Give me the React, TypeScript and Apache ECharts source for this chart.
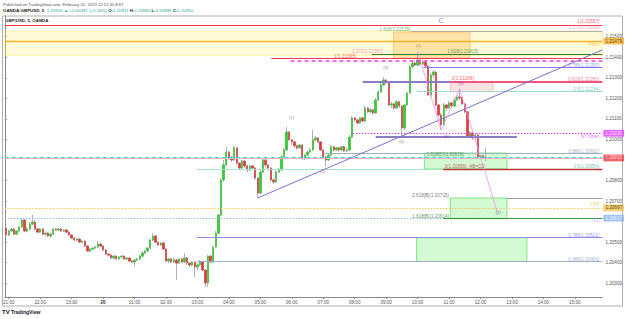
import { useEffect, useRef } from "react";
import * as echarts from "echarts";

// ---- price data (GBP/USD 5-minute bars, 20:55 -> 12:10) ----
const firstOpen = 1.20569;
const closes = [
  1.20535, 1.20554, 1.20564, 1.20539, 1.20554, 1.20574, 1.20608, 1.20554, 1.20564, 1.20588,
  1.20598, 1.20564, 1.20549, 1.20564, 1.20539, 1.20544, 1.2053, 1.20539, 1.20564, 1.20559,
  1.20564, 1.20554, 1.20559, 1.20549, 1.20535, 1.2052, 1.2051, 1.20515, 1.205, 1.20505,
  1.20481, 1.20457, 1.20466, 1.20471, 1.20476, 1.20491, 1.20481, 1.20462, 1.20442, 1.20437,
  1.20423, 1.20432, 1.20418, 1.20428, 1.20432, 1.20418, 1.20423, 1.20408, 1.20403, 1.20413,
  1.20418, 1.20432, 1.20447, 1.20457, 1.20471, 1.2051, 1.2053, 1.205, 1.20486, 1.20496,
  1.20466, 1.20408, 1.20418, 1.20403, 1.20413, 1.20398, 1.20418, 1.20403, 1.20423, 1.20398,
  1.20389, 1.20403, 1.20379, 1.20389, 1.20403, 1.20364, 1.20301, 1.20432, 1.20403, 1.20476,
  1.20544, 1.20632, 1.20803, 1.20876, 1.20939, 1.2091, 1.209, 1.20959, 1.20885, 1.20861,
  1.20895, 1.20871, 1.20851, 1.20871, 1.20861, 1.20812, 1.20739, 1.20841, 1.209, 1.20876,
  1.20861, 1.20803, 1.20793, 1.20841, 1.20851, 1.20915, 1.20949, 1.21036, 1.20998, 1.20988,
  1.20969, 1.20959, 1.20973, 1.2091, 1.20924, 1.20939, 1.20949, 1.20998, 1.21007, 1.20988,
  1.20949, 1.20915, 1.209, 1.20924, 1.20964, 1.20949, 1.20959, 1.20949, 1.20964, 1.20944,
  1.20949, 1.21012, 1.21105, 1.21095, 1.2108, 1.21105, 1.2109, 1.21153, 1.21134, 1.21144,
  1.21129, 1.21192, 1.21231, 1.21265, 1.21289, 1.2128, 1.21168, 1.21173, 1.21153, 1.21183,
  1.21163, 1.21056, 1.21168, 1.21226, 1.21353, 1.21372, 1.21362, 1.21387, 1.21367, 1.21377,
  1.21358, 1.21216, 1.21314, 1.21328, 1.21168, 1.21119, 1.21071, 1.21168, 1.21153, 1.21178,
  1.21163, 1.21192, 1.21207, 1.21202, 1.21173, 1.21134, 1.21017, 1.21032, 1.21007, 1.21022,
  1.20915, 1.2092, 1.20911, 1.2091,
];
const highs = [
  1.20578, 1.20559, 1.20569, 1.20569, 1.20559, 1.20578, 1.20613, 1.20613, 1.20574, 1.20598,
  1.20632, 1.20608, 1.20569, 1.20569, 1.20569, 1.20549, 1.20549, 1.20544, 1.20569, 1.20569,
  1.20569, 1.20569, 1.20564, 1.20564, 1.20554, 1.20539, 1.20525, 1.2052, 1.2052, 1.2051,
  1.2051, 1.20486, 1.20471, 1.20476, 1.20481, 1.20505, 1.20496, 1.20486, 1.20466, 1.20447,
  1.20442, 1.20437, 1.20437, 1.20432, 1.20437, 1.20437, 1.20428, 1.20428, 1.20413, 1.20418,
  1.20423, 1.20437, 1.20457, 1.20462, 1.20476, 1.20515, 1.20544, 1.20535, 1.20505, 1.205,
  1.205, 1.20471, 1.20423, 1.20423, 1.20423, 1.20418, 1.20423, 1.20423, 1.20447, 1.20428,
  1.20403, 1.20408, 1.20408, 1.20398, 1.20413, 1.20408, 1.20369, 1.20437, 1.20437, 1.20481,
  1.20554, 1.20637, 1.20812, 1.209, 1.20964, 1.20944, 1.2092, 1.20969, 1.20964, 1.2089,
  1.209, 1.209, 1.20876, 1.20876, 1.20876, 1.20866, 1.20817, 1.20851, 1.2091, 1.2091,
  1.2088, 1.20866, 1.20812, 1.20851, 1.20861, 1.20924, 1.20959, 1.21061, 1.21041, 1.21002,
  1.20993, 1.20973, 1.20978, 1.20978, 1.20929, 1.20944, 1.20959, 1.21046, 1.21017, 1.21012,
  1.20993, 1.20954, 1.2092, 1.20929, 1.20973, 1.20969, 1.20964, 1.20964, 1.20969, 1.20969,
  1.20959, 1.21022, 1.21114, 1.21109, 1.211, 1.21109, 1.21109, 1.21163, 1.21158, 1.21153,
  1.21148, 1.21202, 1.21241, 1.2128, 1.21304, 1.21294, 1.21285, 1.21183, 1.21178, 1.21192,
  1.21187, 1.21168, 1.21173, 1.21231, 1.21362, 1.21377, 1.21382, 1.21426, 1.21392, 1.21387,
  1.21382, 1.21362, 1.21323, 1.21338, 1.21333, 1.21173, 1.21129, 1.21178, 1.21173, 1.21187,
  1.21183, 1.21202, 1.21216, 1.21246, 1.21207, 1.21178, 1.21139, 1.21041, 1.21036, 1.21032,
  1.21027, 1.20924, 1.20924, 1.2096,
];
const lows = [
  1.20525, 1.2053, 1.20549, 1.20535, 1.20535, 1.20549, 1.20569, 1.20549, 1.20549, 1.20559,
  1.20583, 1.20559, 1.20544, 1.20544, 1.20535, 1.2053, 1.20525, 1.2052, 1.20535, 1.20554,
  1.20554, 1.20549, 1.20549, 1.20544, 1.2053, 1.20515, 1.20505, 1.20505, 1.20496, 1.20496,
  1.20476, 1.20452, 1.20452, 1.20462, 1.20466, 1.20471, 1.20476, 1.20457, 1.20437, 1.20432,
  1.20418, 1.20418, 1.20413, 1.20413, 1.20423, 1.20413, 1.20413, 1.20403, 1.20398, 1.20384,
  1.20408, 1.20413, 1.20428, 1.20442, 1.20452, 1.20466, 1.20505, 1.20496, 1.20481, 1.20481,
  1.20462, 1.20403, 1.20398, 1.20398, 1.20398, 1.20315, 1.20393, 1.20398, 1.20398, 1.20389,
  1.20379, 1.20384, 1.2033, 1.20364, 1.20384, 1.20359, 1.20282, 1.20282, 1.20398, 1.20398,
  1.20471, 1.20539, 1.20627, 1.20793, 1.20871, 1.209, 1.2089, 1.20895, 1.20876, 1.20851,
  1.20851, 1.20861, 1.20841, 1.20846, 1.20851, 1.20803, 1.20715, 1.20734, 1.20837, 1.20866,
  1.20851, 1.20793, 1.20783, 1.20788, 1.20837, 1.20846, 1.2091, 1.20944, 1.20993, 1.20973,
  1.20959, 1.20949, 1.20954, 1.209, 1.209, 1.2092, 1.20934, 1.20944, 1.20993, 1.20983,
  1.20944, 1.2091, 1.20866, 1.20895, 1.2092, 1.20944, 1.20944, 1.20939, 1.20944, 1.20939,
  1.20939, 1.20944, 1.21007, 1.21085, 1.21075, 1.21075, 1.21085, 1.21085, 1.21129, 1.21129,
  1.21119, 1.21124, 1.21187, 1.21226, 1.2126, 1.2127, 1.21163, 1.21153, 1.21144, 1.21148,
  1.21153, 1.21017, 1.21046, 1.21163, 1.21221, 1.21348, 1.21358, 1.21358, 1.21358, 1.21362,
  1.21348, 1.21212, 1.21207, 1.21299, 1.21163, 1.21109, 1.21046, 1.21066, 1.21144, 1.21148,
  1.21153, 1.21158, 1.21187, 1.21192, 1.21168, 1.21129, 1.21012, 1.21007, 1.20998, 1.21002,
  1.2091, 1.20905, 1.2091, 1.20895,
];

// ---- axis labels ----
const startHour = 20;
const startMinute = 55;
const barCount = 228; // visible 5-minute slots, 20:55 -> 15:50
const hourLabels: Record<string, string> = {
  "21:00": "21:00", "22:00": "22:00", "23:00": "23:00", "00:00": "20",
  "01:00": "01:00", "02:00": "02:00", "03:00": "03:00", "04:00": "04:00",
  "05:00": "05:00", "06:00": "06:00", "07:00": "07:00", "08:00": "08:00",
  "09:00": "09:00", "10:00": "10:00", "11:00": "11:00", "12:00": "12:00",
  "13:00": "13:00", "14:00": "14:00", "15:00": "15:00",
};
const priceTicks = [1.203, 1.204, 1.205, 1.207, 1.208, 1.21, 1.211, 1.212, 1.213, 1.214, 1.215];
const yMin = 1.20233;
const yMax = 1.21601;

// ---- drawn levels: [fromBar, toBar, price] ----
const lvRed1 = [0, 228, 1.21557];
const lvOrange = [0, 228, 1.21479];
const lvGray1618C = [155, 228, 1.21525];
const lvGreen1618 = [140, 228, 1.21415];
const lvRedOne = [101.7, 228, 1.21395];
const lvPinkDash = [109, 228, 1.21382];
const lvBlue786 = [159.7, 228, 1.2135];
const lvPurpleTop = [136.6, 189.7, 1.21282];
const lvRed618 = [170, 228, 1.2128];
const lvTeal05 = [157.4, 228, 1.21234];
const lvNYOpen = [132.8, 228, 1.2103];
const lvPurpleMid = [141.5, 195.4, 1.21012];
const lvGray886 = [121.5, 228, 1.20932];
const lvCyan = [0, 228, 1.20915];
const lvPrice = [0, 228, 1.2091];
const lvTealLow05 = [73.2, 228, 1.20854];
const lvRedABCD = [167.3, 228, 1.20856];
const lvGray2618 = [191.6, 228, 1.20715];
const lvOrangeDot = [0, 228, 1.20667];
const lvBlueDot = [0, 228, 1.20617];
const lvGreen1618B = [167.3, 228, 1.20614];
const lvPurple786 = [73.2, 228, 1.20522];
const lvGray886Low = [73.2, 228, 1.20406];

// zones: [fromBar, toBar, priceTop, priceBottom]
const zoneYellow = [0, 228, 1.21528, 1.21408];
const zoneOrange = [148.3, 177.5, 1.21523, 1.21397];
const zonePink = [170, 186.3, 1.21281, 1.21232];
const zoneGreen1 = [160.1, 191.6, 1.20934, 1.20856];
const zoneGreen2 = [170, 191.6, 1.20715, 1.20614];
const zoneGreen3 = [157.1, 199.2, 1.20522, 1.20406];

// diagonals: [bar1, price1, bar2, price2]
const trendLine = [96.5, 1.20715, 228, 1.21436];
const legXA = [157.5, 1.21426, 166.5, 1.21046];
const legAB = [166.5, 1.21046, 173.5, 1.21246];
const legBC = [173.5, 1.21246, 187.8, 1.20651];

// wave / level labels: [bar, price, text]
const waveLabels: [number, number, string][] = [
  [109.3, 1.21109, "(1)"],
  [121.3, 1.20846, "(2)"],
  [145.3, 1.21348, "(3)"],
  [151.4, 1.20988, "(4)"],
  [157.8, 1.21455, "(5)"],
];
const abcLabels: [number, number, string][] = [
  [168.4, 1.21012, "(a)"],
  [174.1, 1.2127, "(b)"],
];
const cLabel: [number, number, string] = [188.2, 1.20642, "(c)"];
const bigC: [number, number, string] = [166.5, 1.21577, "C"];

export default function App() {
  const ref = useRef<HTMLDivElement>(null);

  useEffect(() => {
    document.body.style.margin = "0";
    if (!ref.current) return;
    const chart = echarts.init(ref.current, undefined, { renderer: "svg" });

    const FONT = "Liberation Sans";
    const FS = 4.6;

    // categories (5-minute slots)
    const cats: string[] = [];
    for (let i = 0; i < barCount; i++) {
      const t = startHour * 60 + startMinute + i * 5;
      const h = Math.floor(t / 60) % 24;
      const m = t % 60;
      cats.push(String(h).padStart(2, "0") + ":" + String(m).padStart(2, "0"));
    }

    const full: number[][] = [];
    const bodies: number[][] = [];
    for (let i = 0; i < closes.length; i++) {
      const o = i === 0 ? firstOpen : closes[i - 1];
      const c = closes[i];
      const hi = Math.max(highs[i], o, c);
      const lo = Math.min(lows[i], o, c);
      full.push([o, c, lo, hi]);
      bodies.push([o, c, Math.min(o, c), Math.max(o, c)]);
    }

    const seg = (lv: number[], color: string, width: number, type: any = "solid") => [
      { coord: [lv[0], lv[2]], lineStyle: { color, width, type }, label: { show: false } },
      { coord: [lv[1], lv[2]] },
    ];
    const diag = (d: number[], color: string, width: number) => [
      { coord: [d[0], d[1]], lineStyle: { color, width, type: "solid" }, label: { show: false } },
      { coord: [d[2], d[3]] },
    ];
    const zone = (z: number[], fill: string, border: string) => [
      { coord: [z[0], z[2]], itemStyle: { color: fill, borderColor: border, borderWidth: 0.8 } },
      { coord: [z[1], z[3]] },
    ];
    const box = (price: number, bg: string, fg: string) => ({
      value: [228, price],
      label: {
        show: true, position: "right", distance: 1, formatter: price.toFixed(5),
        backgroundColor: bg, color: fg, fontSize: FS, fontFamily: FONT,
        padding: [1.2, 2, 0.6, 2],
      },
    });

    const txt = (x: number, p: number, text: string, color: string, align = "right", size = FS, weight: any = "normal") => ({
      value: [x, p],
      label: {
        show: true, position: "inside", formatter: text, color, align, verticalAlign: "middle",
        fontSize: size, fontFamily: FONT, fontWeight: weight,
      },
    });

    const option: any = {
      animation: false,
      backgroundColor: "#ffffff",
      grid: { left: 3, right: 22, top: 16, bottom: 22, containLabel: false },
      xAxis: [
        {
          type: "category",
          data: cats,
          boundaryGap: true,
          axisLine: { lineStyle: { color: "#8a8a8a", width: 1 } },
          axisTick: {
            show: true, alignWithLabel: true, length: 2,
            interval: (_i: number, v: string) => v in hourLabels,
            lineStyle: { color: "#8a8a8a" },
          },
          axisLabel: {
            interval: (_i: number, v: string) => v in hourLabels,
            formatter: (v: string) => (v === "00:00" ? "{b|20}" : hourLabels[v] || ""),
            fontSize: FS, fontFamily: FONT, color: "#555", margin: 3,
            rich: { b: { fontSize: FS, fontFamily: FONT, fontWeight: "bold", color: "#333" } },
          },
          splitLine: { show: false },
        },
        { type: "value", min: 0, max: 228, show: false },
      ],
      yAxis: {
        type: "value",
        position: "right",
        min: yMin,
        max: yMax,
        scale: true,
        axisLine: { show: true, lineStyle: { color: "#8a8a8a" } },
        axisTick: { show: true, length: 2, customValues: priceTicks, lineStyle: { color: "#8a8a8a" } },
        axisLabel: {
          customValues: priceTicks,
          formatter: (v: number) => v.toFixed(5),
          fontSize: FS, fontFamily: FONT, color: "#555", margin: 3,
        },
        splitLine: { show: false },
      },
      series: [
        {
          type: "line",
          xAxisIndex: 1,
          data: [[0, 1.21]],
          showSymbol: false,
          lineStyle: { opacity: 0 },
          silent: true,
          z: 1,
          markArea: {
            silent: true,
            label: { show: false },
            data: [
              zone(zoneYellow, "rgba(255,241,118,0.28)", "rgba(255,224,80,0.5)"),
              zone(zoneOrange, "rgba(255,167,38,0.28)", "rgba(255,160,60,0.6)"),
              zone(zonePink, "rgba(242,120,120,0.22)", "rgba(242,120,120,0.45)"),
              zone(zoneGreen1, "rgba(120,240,120,0.32)", "rgba(90,220,90,0.9)"),
              zone(zoneGreen2, "rgba(120,240,120,0.32)", "rgba(90,220,90,0.9)"),
              zone(zoneGreen3, "rgba(120,240,120,0.32)", "rgba(90,220,90,0.9)"),
            ],
          },
        },
        {
          type: "candlestick",
          name: "wicks",
          data: full,
          barWidth: 1.9,
          z: 3,
          itemStyle: {
            color: "#a0a0a0", color0: "#a0a0a0",
            borderColor: "#a0a0a0", borderColor0: "#a0a0a0", borderWidth: 0.8,
          },
          silent: true,
        },
        {
          type: "candlestick",
          name: "bodies",
          data: bodies,
          barWidth: 1.9,
          z: 4,
          itemStyle: {
            color: "#2fd12f", color0: "#e8383b",
            borderColor: "#2fd12f", borderColor0: "#e8383b", borderWidth: 0.4,
          },
          silent: true,
        },
        {
          type: "line",
          xAxisIndex: 1,
          data: [[0, 1.21]],
          showSymbol: false,
          lineStyle: { opacity: 0 },
          silent: true,
          z: 5,
          markLine: {
            silent: true,
            symbol: ["none", "none"],
            precision: 5,
            data: [
              seg(lvRed1, "#f23645", 1),
              seg(lvOrange, "#f7b32b", 1.4),
              seg(lvGray1618C, "#9e9e9e", 0.8),
              seg(lvGreen1618, "#2e7d32", 1.2),
              seg(lvRedOne, "#f23645", 1),
              seg(lvPinkDash, "#ea40e8", 1.6, [4, 3]),
              seg(lvBlue786, "#7b7bf5", 1),
              seg(lvPurpleTop, "#8c7cc8", 2.2),
              seg(lvRed618, "#f2547a", 2),
              seg(lvTeal05, "#9fdcd0", 1),
              seg(lvNYOpen, "#e040fb", 1, [1.5, 1.5]),
              seg(lvPurpleMid, "#8c7cc8", 2.2),
              seg(lvGray886, "#9fb2c8", 1.2),
              seg(lvCyan, "#26e0f0", 1.2, [4, 3]),
              seg(lvPrice, "#f7b0b8", 1),
              seg(lvTealLow05, "#a6e4d6", 1),
              seg(lvRedABCD, "#b5373a", 1.4),
              seg(lvGray2618, "#9e9e9e", 1),
              seg(lvOrangeDot, "#f7c35a", 1.2, [1.5, 1.5]),
              seg(lvBlueDot, "#90b8f0", 1.2, [1.5, 1.5]),
              seg(lvGreen1618B, "#2e9d3a", 1.2),
              seg(lvPurple786, "#8c8cf0", 1),
              seg(lvGray886Low, "#9fb2c8", 1),
              diag(trendLine, "#7e6fd0", 1),
              diag(legXA, "#f58ff0", 0.8),
              diag(legAB, "#f58ff0", 0.8),
              diag(legBC, "#f58ff0", 0.8),
            ],
          },
        },
        {
          type: "scatter",
          xAxisIndex: 1,
          symbolSize: 0,
          silent: true,
          clip: false,
          z: 6,
          data: [
            ...waveLabels.map((w) => txt(w[0], w[1], w[2], "#8a4a4a", "center", 4)),
            ...abcLabels.map((w) => txt(w[0], w[1], w[2], "#8a3fc0", "center", 4.5)),
            txt(cLabel[0], cLabel[1], cLabel[2], "#555", "center", 4.5),
            txt(bigC[0], bigC[1], bigC[2], "#7b5fd0", "center", 8),
            txt(226.9, 1.21572, "1(1.21557)", "#f23645"),
            txt(226.9, 1.21543, "1.272(1.21536)", "#f57ab0"),
            txt(154.8, 1.21533, "1.618(1.21525)", "#3c9a3c"),
            txt(168.8, 1.21426, "1.618(1.21415)", "#2e7d32", "left"),
            txt(125.6, 1.21402, "1(1.21395)", "#f23645", "left"),
            txt(132.5, 1.21428, "1.272(1.21393)", "#f57ab0", "left"),
            txt(226.9, 1.21462, "PWH", "#f7b32b"),
            txt(226.9, 1.2136, "0.786(1.21350)", "#7b7bf5"),
            txt(226.9, 1.2129, "0.618(1.21280)", "#f2547a"),
            txt(226.9, 1.21242, "0.5(1.21234)", "#58b8a8"),
            txt(170.5, 1.21298, "2(1.21289)", "#f23645", "left"),
            txt(226.9, 1.21016, "NY Open", "#e040fb"),
            txt(226.9, 1.2094, "0.886(1.20932)", "#8aa0bc"),
            txt(161, 1.20926, "1.618[C](1.20919)", "#2e7d32", "left"),
            txt(167.8, 1.20866, "3(1.20856)  AB=CD", "#b5373a", "left"),
            txt(226.9, 1.20866, "0.5(1.20854)", "#58b8a8"),
            txt(169.5, 1.20728, "2.618[B](1.20715)", "#555", "right"),
            txt(226.9, 1.20684, "YSH", "#f2c14e"),
            txt(226.9, 1.20603, "YCL", "#8fb4ec"),
            txt(169.5, 1.20624, "1.618[B](1.20614)", "#2e7d32", "right"),
            txt(226.9, 1.20532, "0.786(1.20522)", "#7b7bf5"),
            txt(226.9, 1.20414, "0.886(1.20406)", "#8aa0bc"),
            box(lvOrange[2], "#f7b32b", "#222"),
            box(lvNYOpen[2], "#e040fb", "#fff"),
            box(lvPrice[2], "#f23645", "#fff"),
            box(lvOrangeDot[2], "#f2c14e", "#222"),
            box(lvBlueDot[2], "#8fb4ec", "#fff"),
          ],
        },
      ],
      graphic: [
        {
          type: "rect",
          shape: { x: 2.5, y: 16, width: 620, height: 290 },
          style: { fill: "none", stroke: "#b0b0b0", lineWidth: 1 },
          silent: true,
        },
        {
          type: "text", x: 3, y: 2,
          style: { text: "Published on TradingView.com, February 20, 2023 12:12:30 EST", fontSize: 4.2, fontFamily: FONT, fill: "#555" },
        },
        {
          type: "text", x: 3, y: 8,
          style: {
            text: "{k|OANDA:GBPUSD, 5}  {g|1.20910 ▲ +0.00291 (+0.24%)} {k|O:}{g|1.20911} {k|H:}{g|1.20960} {k|L:}{g|1.20895} {k|C:}{g|1.20910}",
            fontSize: 4.4, fontFamily: FONT,
            rich: {
              k: { fontSize: 4.4, fontFamily: FONT, fill: "#222", fontWeight: "bold" },
              g: { fontSize: 4.4, fontFamily: FONT, fill: "#26a69a" },
            },
          },
        },
        {
          type: "text", x: 5, y: 18.5,
          style: { text: "GBP/USD, 5, OANDA", fontSize: 4.4, fontFamily: FONT, fontWeight: "bold", fill: "#222" },
        },
        {
          type: "text", x: 2, y: 308.5,
          style: { text: "TV", fontSize: 6, fontFamily: FONT, fontWeight: "bold", fill: "#131722" },
        },
        {
          type: "text", x: 11, y: 309.5,
          style: { text: "TradingView", fontSize: 5, fontFamily: FONT, fontWeight: "bold", fill: "#131722" },
        },
      ],
    };

    chart.setOption(option);
    return () => chart.dispose();
  }, []);

  return <div ref={ref} style={{ width: 625, height: 319 }} />;
}
